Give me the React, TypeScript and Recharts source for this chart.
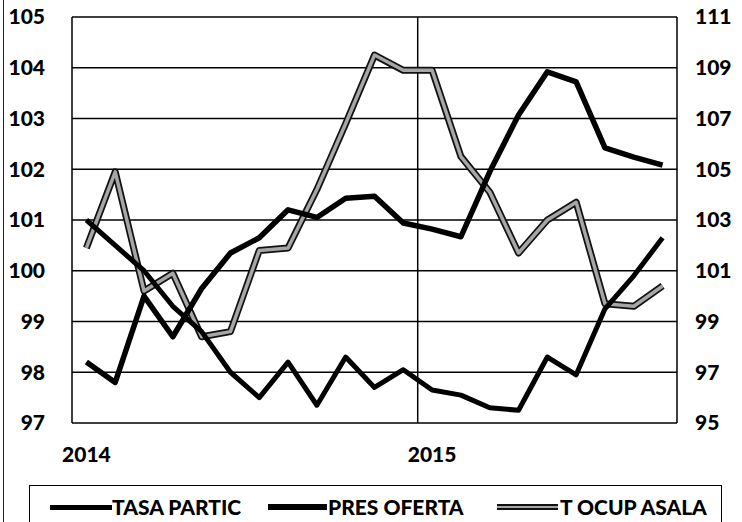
import { LineChart, Line, XAxis, YAxis, CartesianGrid, ReferenceLine } from 'recharts'

const MONTHS = [
  'ene-14', 'feb-14', 'mar-14', 'abr-14', 'may-14', 'jun-14', 'jul-14', 'ago-14', 'sep-14', 'oct-14', 'nov-14', 'dic-14',
  'ene-15', 'feb-15', 'mar-15', 'abr-15', 'may-15', 'jun-15', 'jul-15', 'ago-15', 'sep-15',
]
// left axis
const TASA_PARTIC = [101.0, 100.5, 100.0, 99.3, 98.8, 98.0, 97.5, 98.2, 97.35, 98.3, 97.7, 98.05, 97.65, 97.55, 97.3, 97.25, 98.3, 97.95, 99.25, 99.9, 100.65]
const PRES_OFERTA = [98.2, 97.8, 99.5, 98.7, 99.65, 100.35, 100.65, 101.2, 101.05, 101.43, 101.47, 100.94, 100.82, 100.67, 101.95, 103.07, 103.92, 103.72, 102.42, 102.24, 102.08]
// right axis
const T_OCUP_ASALA = [101.9, 104.9, 100.2, 100.9, 98.4, 98.6, 101.8, 101.9, 104.2, 106.8, 109.5, 108.9, 108.9, 105.5, 104.1, 101.7, 103.0, 103.7, 99.7, 99.6, 100.4]

const YEAR_TICKS = [0, 12]
const YEAR_LABELS = ['2014', '2015']
const LEFT_TICKS = [97, 98, 99, 100, 101, 102, 103, 104, 105]
const RIGHT_TICKS = [95, 97, 99, 101, 103, 105, 107, 109, 111]

const data = MONTHS.map((m, i) => ({
  i,
  month: m,
  tasa: TASA_PARTIC[i],
  pres: PRES_OFERTA[i],
  tocup: T_OCUP_ASALA[i],
}))

const FONT = 'Lato, "Open Sans", sans-serif'
const tickStyle = { fill: '#000', fontSize: 21, fontWeight: 900, fontFamily: FONT }

export default function App() {
  return (
    <div style={{ position: 'absolute', left: 0, top: 0, width: 742, height: 522, background: '#fff', overflow: 'hidden' }}>
      <div style={{ position: 'absolute', left: 3, top: 0, width: 1, height: 522, background: '#222' }} />
      <LineChart width={742} height={522} data={data} margin={{ top: 17, right: 5, bottom: 59, left: 12 }}>
        <CartesianGrid yAxisId="left" vertical={false} stroke="#000" strokeWidth={1.5} />
        <XAxis
          dataKey="i"
          type="number"
          domain={[-0.5, 20.5]}
          ticks={YEAR_TICKS}
          interval={0}
          tickFormatter={(v) => YEAR_LABELS[YEAR_TICKS.indexOf(v)]}
          axisLine={false}
          tickLine={false}
          tickSize={0}
          tickMargin={24}
          height={40}
          tick={tickStyle}
        />
        <YAxis
          yAxisId="left"
          domain={[97, 105]}
          ticks={LEFT_TICKS}
          interval={0}
          axisLine={false}
          tickLine={false}
          tickSize={0}
          tickMargin={27}
          width={60}
          tick={tickStyle}
        />
        <YAxis
          yAxisId="right"
          orientation="right"
          domain={[95, 111]}
          ticks={RIGHT_TICKS}
          interval={0}
          axisLine={false}
          tickLine={false}
          tickSize={0}
          tickMargin={18}
          width={60}
          tick={tickStyle}
        />
        <ReferenceLine yAxisId="left" x={-0.5} stroke="#000" strokeWidth={1.5} />
        <ReferenceLine yAxisId="left" x={11.5} stroke="#000" strokeWidth={1.5} />
        <ReferenceLine yAxisId="left" x={20.5} stroke="#000" strokeWidth={1.5} />
        <Line yAxisId="right" dataKey="tocup" stroke="#111" strokeWidth={7} strokeLinejoin="round" dot={false} isAnimationActive={false} />
        <Line yAxisId="right" dataKey="tocup" stroke="#a6a6a6" strokeWidth={3.5} strokeLinejoin="round" dot={false} isAnimationActive={false} />
        <Line yAxisId="left" dataKey="pres" stroke="#000" strokeWidth={5.5} strokeLinejoin="round" dot={false} isAnimationActive={false} />
        <Line yAxisId="left" dataKey="tasa" stroke="#000" strokeWidth={5} strokeLinejoin="round" dot={false} isAnimationActive={false} />
      </LineChart>

      {/* legend box */}
      <div style={{ position: 'absolute', left: 29, top: 485, width: 693, height: 50, border: '1.5px solid #000', boxSizing: 'border-box' }} />
      <div style={{ position: 'absolute', left: 50, top: 505, width: 62, height: 5, background: '#000' }} />
      <div style={{ position: 'absolute', left: 268, top: 504, width: 59, height: 6, background: '#000' }} />
      <div style={{ position: 'absolute', left: 497, top: 504, width: 61, height: 6, background: '#111' }} />
      <div style={{ position: 'absolute', left: 497, top: 506, width: 61, height: 2, background: '#a6a6a6' }} />
      {[
        { label: 'TASA PARTIC', left: 112 },
        { label: 'PRES OFERTA', left: 328 },
        { label: 'T OCUP ASALA', left: 560 },
      ].map((it) => (
        <span
          key={it.label}
          style={{
            position: 'absolute',
            left: it.left,
            top: 494,
            lineHeight: '26px',
            fontFamily: FONT,
            fontWeight: 900,
            fontSize: 21,
            color: '#000',
            whiteSpace: 'nowrap',
          }}
        >
          {it.label}
        </span>
      ))}
    </div>
  )
}
